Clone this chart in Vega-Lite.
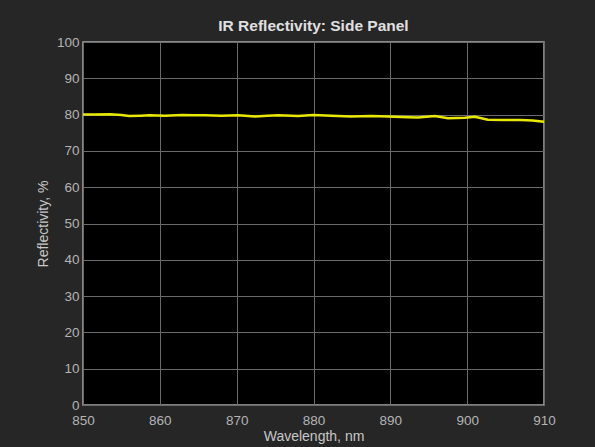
{
  "$schema": "https://vega.github.io/schema/vega-lite/v6.json",
  "width": 461,
  "height": 363,
  "autosize": {"type": "none"},
  "padding": {"left": 83, "top": 42, "right": 51, "bottom": 42},
  "background": "#262626",
  "title": {
    "text": "IR Reflectivity: Side Panel",
    "font": "Liberation Sans",
    "fontSize": 15.5,
    "fontWeight": "bold",
    "color": "#e0e0e0",
    "anchor": "middle",
    "offset": 1
  },
  "config": {
    "view": {"fill": "#000000", "stroke": "#a8a8a8", "strokeWidth": 1.5},
    "axis": {
      "labelFont": "Liberation Sans",
      "titleFont": "Liberation Sans",
      "labelFontSize": 13.5,
      "titleFontSize": 14,
      "labelColor": "#b4b4b4",
      "titleColor": "#c8c8c8",
      "titleFontWeight": "normal",
      "gridColor": "#6a6a6a",
      "gridWidth": 1,
      "gridOpacity": 1,
      "domain": false,
      "ticks": false
    }
  },
  "data": {
    "values": [
      {"wl": 850, "r": 80.0},
      {"wl": 851.5, "r": 80.0},
      {"wl": 853.5, "r": 80.1},
      {"wl": 855, "r": 79.9},
      {"wl": 856, "r": 79.6},
      {"wl": 857.5, "r": 79.7},
      {"wl": 858.6, "r": 79.8},
      {"wl": 860.7, "r": 79.7},
      {"wl": 862.9, "r": 79.9},
      {"wl": 864.5, "r": 79.8},
      {"wl": 865.9, "r": 79.8},
      {"wl": 868, "r": 79.7},
      {"wl": 870.2, "r": 79.8},
      {"wl": 872.4, "r": 79.5},
      {"wl": 874, "r": 79.7},
      {"wl": 875.4, "r": 79.8},
      {"wl": 878, "r": 79.6},
      {"wl": 880, "r": 79.9},
      {"wl": 882.3, "r": 79.7},
      {"wl": 884.9, "r": 79.5},
      {"wl": 887.5, "r": 79.6},
      {"wl": 889.7, "r": 79.5},
      {"wl": 892.3, "r": 79.3},
      {"wl": 893.6, "r": 79.2},
      {"wl": 895.8, "r": 79.6},
      {"wl": 897.5, "r": 79.0},
      {"wl": 899.7, "r": 79.1},
      {"wl": 901, "r": 79.4},
      {"wl": 902.7, "r": 78.6},
      {"wl": 904.9, "r": 78.5},
      {"wl": 907, "r": 78.5},
      {"wl": 908.5, "r": 78.4},
      {"wl": 910, "r": 78.0}
    ]
  },
  "mark": {"type": "line", "color": "#e8e800", "strokeWidth": 2.5},
  "encoding": {
    "x": {
      "field": "wl",
      "type": "quantitative",
      "scale": {"domain": [850, 910], "nice": false, "zero": false},
      "axis": {"values": [850, 860, 870, 880, 890, 900, 910], "title": "Wavelength, nm", "labelPadding": 8, "titlePadding": 3, "labelFlush": false}
    },
    "y": {
      "field": "r",
      "type": "quantitative",
      "scale": {"domain": [0, 100], "nice": false},
      "axis": {"values": [0, 10, 20, 30, 40, 50, 60, 70, 80, 90, 100], "title": "Reflectivity, %", "labelPadding": 4, "titlePadding": 6, "labelFlush": false}
    }
  }
}
